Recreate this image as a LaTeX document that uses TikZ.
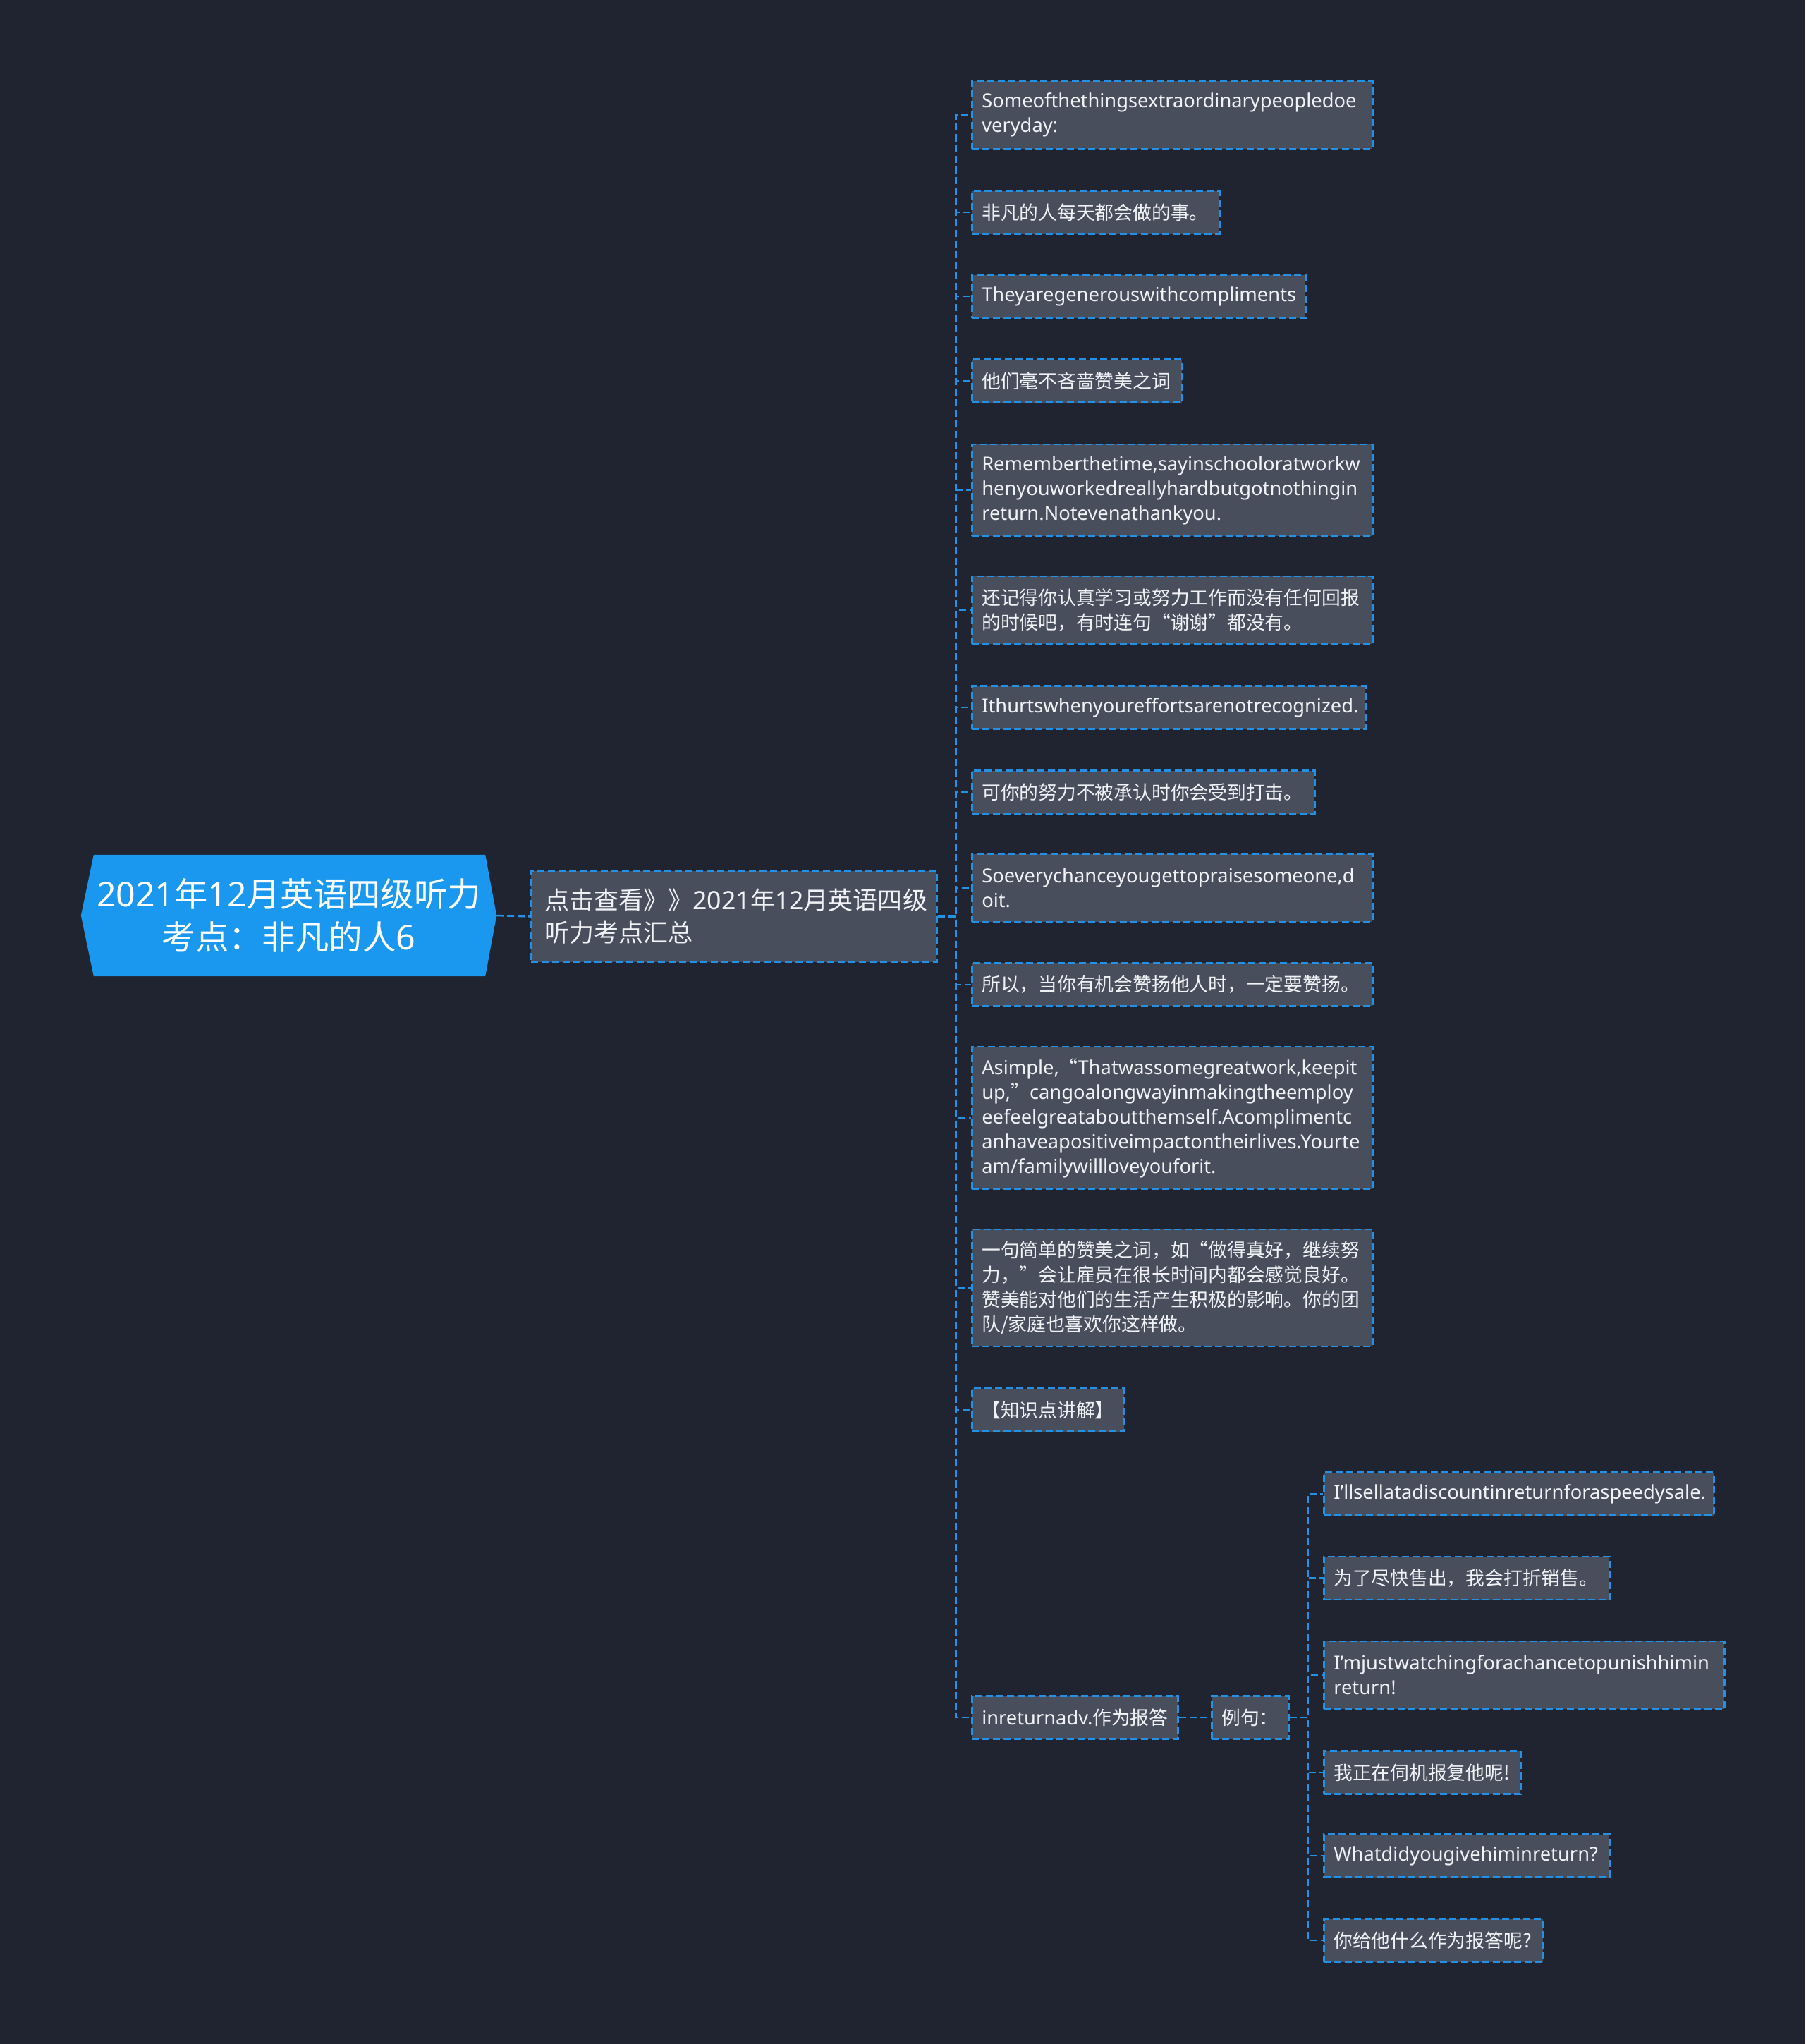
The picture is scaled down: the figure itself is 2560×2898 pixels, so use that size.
\documentclass[tikz,border=0pt]{standalone}
\usepackage{fontspec}
\setmainfont{Noto Sans}[Scale=1.05]
\newfontfamily\cjk{Noto Sans CJK SC}[Scale=1.03]
\usetikzlibrary{calc}
\definecolor{bg}{RGB}{32,35,48}
\definecolor{boxfill}{RGB}{73,78,93}
\definecolor{lineblue}{RGB}{36,146,228}
\definecolor{rootblue}{RGB}{26,152,240}
\definecolor{txt}{RGB}{240,242,245}
\tikzset{
  conn/.style={draw=lineblue, line width=2.5pt, dash pattern=on 10pt off 5pt},
  leaf/.style={draw=lineblue, line width=2.5pt, dash pattern=on 10pt off 5pt,
    fill=boxfill, text=txt, anchor=west, align=left, inner xsep=14pt, inner ysep=0pt,
    font=\fontsize{26}{35}\selectfont, minimum height=61pt},
  rootnode/.style={text=white, align=center, inner sep=0pt,
    minimum width=589pt, minimum height=172pt, font=\fontsize{46}{61}\selectfont},
  midnode/.style={draw=lineblue, line width=2.5pt, dash pattern=on 10pt off 5pt,
    fill=boxfill, text=txt, anchor=west, align=left, inner xsep=19pt, inner ysep=0pt,
    font=\fontsize{34}{46}\selectfont, minimum height=129pt, text width=537pt},
}
\hyphenpenalty=10000
\exhyphenpenalty=10000
\begin{document}
\begin{tikzpicture}[x=1pt,y=-1pt]
\useasboundingbox (0,0) rectangle (2560,2898);
\fill[bg] (0,0) rectangle (2560,2898);

% root
\node[rootnode] (root) at (409.5,1298) {2021{\cjk 年}12{\cjk 月英语四级听力}\\{\cjk 考点：非凡的人}6};
\fill[rootblue] (root.west) -- ($(root.north west)+(18,0)$) -- ($(root.north east)+(-16,0)$)
  -- (root.east) -- ($(root.south east)+(-16,0)$) -- ($(root.south west)+(18,0)$) -- cycle;
\node[rootnode] at (root.center) {2021{\cjk 年}12{\cjk 月英语四级听力}\\{\cjk 考点：非凡的人}6};

% second level
\node[midnode] (n2) at (752,1299.5) {{\cjk 点击查看》》}2021{\cjk 年}12{\cjk 月英语四级}\\{\cjk 听力考点汇总}};

% children
\node[leaf, text width=540pt, minimum height=96pt] (c1) at (1377,163) {Someofthethingsextraordinarypeopledoe\\veryday:};
\node[leaf, text width=323pt] (c2) at (1377,301) {{\cjk 非凡的人每天都会做的事。}};
\node[leaf, text width=445pt] (c3) at (1377,420) {Theyaregenerouswithcompliments};
\node[leaf, text width=270pt] (c4) at (1377,540) {{\cjk 他们毫不吝啬赞美之词}};
\node[leaf, text width=540pt, minimum height=130pt] (c5) at (1377,695) {Rememberthetime,sayinschooloratworkw\\henyouworkedreallyhardbutgotnothingin\\return.Notevenathankyou.};
\node[leaf, text width=540pt, minimum height=96pt] (c6) at (1377,865) {{\cjk 还记得你认真学习或努力工作而没有任何回报}\\{\cjk 的时候吧，有时连句“谢谢”都没有。}};
\node[leaf, text width=530pt] (c7) at (1377,1003) {Ithurtswhenyoureffortsarenotrecognized.};
\node[leaf, text width=458pt] (c8) at (1377,1123) {{\cjk 可你的努力不被承认时你会受到打击。}};
\node[leaf, text width=540pt, minimum height=96pt] (c9) at (1377,1259) {Soeverychanceyougettopraisesomeone,d\\oit.};
\node[leaf, text width=540pt] (c10) at (1377,1396) {{\cjk 所以，当你有机会赞扬他人时，一定要赞扬。}};
\node[leaf, text width=540pt, minimum height=202pt] (c11) at (1377,1585) {Asimple,{\cjk “}Thatwassomegreatwork,keepit\\up,{\cjk ”}cangoalongwayinmakingtheemploy\\eefeelgreataboutthemself.Acomplimentc\\anhaveapositiveimpactontheirlives.Yourte\\am/familywillloveyouforit.};
\node[leaf, text width=540pt, minimum height=166pt] (c12) at (1377,1826) {{\cjk 一句简单的赞美之词，如“做得真好，继续努}\\{\cjk 力，”会让雇员在很长时间内都会感觉良好。}\\{\cjk 赞美能对他们的生活产生积极的影响。你的团}\\{\cjk 队/家庭也喜欢你这样做。}};
\node[leaf, text width=188pt] (c13) at (1377,1999) {{\cjk 【知识点讲解】}};
\node[leaf, text width=264pt] (c14) at (1377,2435) {inreturnadv.{\cjk 作为报答}};

% example level
\node[leaf, text width=81pt] (ex) at (1717,2435) {{\cjk 例句：}};
\node[leaf, text width=525pt] (s1) at (1876,2118) {I'llsellatadiscountinreturnforaspeedysale.};
\node[leaf, text width=377pt] (s2) at (1876,2237.5) {{\cjk 为了尽快售出，我会打折销售。}};
\node[leaf, text width=540pt, minimum height=96pt] (s3) at (1876,2375) {I'mjustwatchingforachancetopunishhimin\\return!};
\node[leaf, text width=251pt] (s4) at (1876,2513) {{\cjk 我正在伺机报复他呢!}};
\node[leaf, text width=377pt] (s5) at (1876,2631) {Whatdidyougivehiminreturn?};
\node[leaf, text width=283pt] (s6) at (1876,2751) {{\cjk 你给他什么作为报答呢?}};

% connectors
\draw[conn] (root.east) -- (n2.west);
\foreach \c in {c1,c2,c3,c4,c5,c6,c7,c8,c9,c10,c11,c12,c13,c14}
  \draw[conn] (n2.east) -- ++(26,0) |- (\c.west);
\draw[conn] (c14.east) -- (ex.west);
\foreach \s in {s1,s2,s3,s4,s5,s6}
  \draw[conn] (ex.east) -- ++(26,0) |- (\s.west);
\end{tikzpicture}
\end{document}
